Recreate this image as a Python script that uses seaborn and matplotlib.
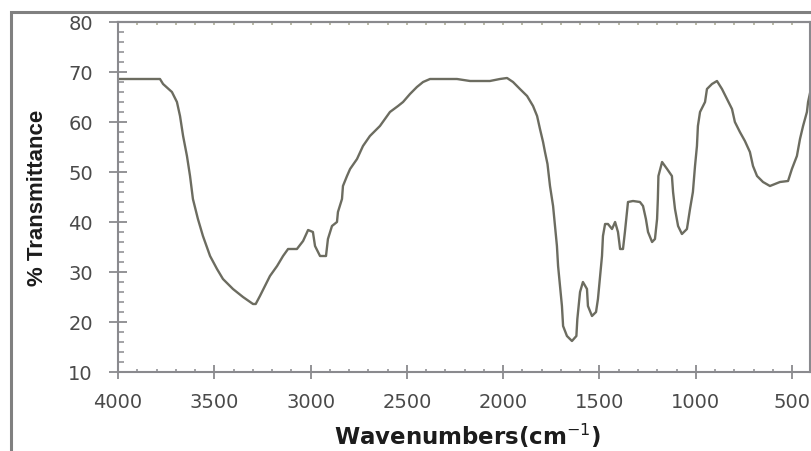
import matplotlib
matplotlib.use("Agg")
import matplotlib.pyplot as plt
import seaborn as sns
import pandas as pd
from matplotlib.patches import Rectangle
from matplotlib.ticker import MultipleLocator, FixedLocator

# ---- data ----
wavenumber = [4000, 3900, 3782, 3766, 3720, 3694, 3678, 3662, 3642, 3626, 3611, 3585,
              3559, 3522, 3486, 3455, 3403, 3351, 3299, 3285, 3263, 3237, 3211, 3174,
              3143, 3117, 3071, 3039, 3013, 2988, 2977, 2951, 2920, 2910, 2889, 2863,
              2858, 2837, 2832, 2811, 2795, 2759, 2728, 2692, 2640, 2588, 2546, 2520,
              2484, 2448, 2416, 2380, 2240, 2172, 2069, 2017, 1980, 1949, 1913, 1876,
              1845, 1824, 1809, 1793, 1783, 1770, 1757, 1741, 1731, 1721, 1715, 1705,
              1695, 1689, 1669, 1643, 1620, 1615, 1601, 1586, 1565, 1560, 1539, 1518,
              1508, 1497, 1487, 1482, 1471, 1456, 1435, 1419, 1404, 1393, 1378, 1368,
              1357, 1352, 1326, 1290, 1274, 1259, 1248, 1227, 1212, 1201, 1197, 1194,
              1175, 1149, 1124, 1118, 1108, 1092, 1072, 1046, 1030, 1015, 1004, 994,
              989, 978, 952, 942, 916, 890, 864, 838, 812, 797, 771, 745, 719, 703,
              682, 651, 615, 563, 521, 501, 475, 459, 443, 423, 417, 400]
transmittance = [68.6, 68.6, 68.6, 67.6, 66.0, 64.0, 61.2, 57.2, 53.2, 49.2, 44.6, 40.6,
                 37.2, 33.2, 30.6, 28.6, 26.6, 25.0, 23.6, 23.6, 25.2, 27.2, 29.2, 31.2,
                 33.2, 34.6, 34.6, 36.2, 38.4, 38.0, 35.2, 33.2, 33.2, 36.6, 39.2, 40.0,
                 42.0, 44.6, 47.2, 49.2, 50.6, 52.6, 55.2, 57.2, 59.2, 62.0, 63.2, 64.0,
                 65.6, 67.0, 68.0, 68.6, 68.6, 68.2, 68.2, 68.6, 68.8, 68.0, 66.6, 65.2,
                 63.2, 61.2, 58.6, 56.0, 54.0, 51.6, 47.2, 43.2, 39.2, 35.2, 31.2, 27.2,
                 23.2, 19.2, 17.2, 16.2, 17.2, 20.6, 26.0, 28.0, 26.6, 23.2, 21.2, 22.0,
                 24.6, 29.2, 33.2, 37.2, 39.6, 39.6, 38.6, 40.0, 38.0, 34.6, 34.6, 38.0,
                 42.0, 44.0, 44.2, 44.0, 43.2, 40.6, 38.0, 36.0, 36.6, 40.6, 44.6, 49.2,
                 52.0, 50.6, 49.2, 46.0, 42.6, 39.2, 37.6, 38.6, 42.6, 46.0, 51.2, 55.2,
                 59.2, 62.0, 64.0, 66.6, 67.6, 68.2, 66.6, 64.6, 62.6, 60.0, 58.0, 56.2,
                 54.0, 51.2, 49.2, 48.0, 47.2, 48.0, 48.2, 50.6, 53.2, 56.6, 59.2, 62.0,
                 64.0, 67.0]
x_ticks = [4000, 3500, 3000, 2500, 2000, 1500, 1000, 500]
y_ticks = [10, 20, 30, 40, 50, 60, 70, 80]
x_label = "Wavenumbers(cm$^{-1}$)"
y_label = "% Transmittance"

sns.set_theme(style="ticks")
plt.rcParams["font.family"] = ["DejaVu Sans"]

W, H = 811, 452
fig = plt.figure(figsize=(W / 100, H / 100), dpi=100)
fig.patch.set_facecolor("white")
ax = fig.add_axes([118 / W, (H - 373) / H, 692 / W, 350 / H])

df = pd.DataFrame({"wn": wavenumber, "T": transmittance})
sns.lineplot(data=df, x="wn", y="T", sort=False, estimator=None,
             color="#6c6c60", linewidth=1.7, ax=ax)

ax.set_xlim(4000, 407)
ax.set_ylim(10, 80)
ax.xaxis.set_major_locator(FixedLocator(x_ticks))
ax.xaxis.set_minor_locator(MultipleLocator(100))
ax.yaxis.set_major_locator(FixedLocator(y_ticks))
ax.yaxis.set_minor_locator(MultipleLocator(2))

spine_c = "#8a8a8e"
for s in ax.spines.values():
    s.set_visible(True)
    s.set_color(spine_c)
    s.set_linewidth(1.5)

lab_c = "#4a4a4a"
ax.tick_params(axis="x", which="major", direction="inout", length=10, width=1.3,
               color=spine_c, pad=9.5, labelsize=14, labelcolor=lab_c,
               top=False, bottom=True)
ax.tick_params(axis="x", which="minor", direction="in", length=2.5, width=1.1,
               color=spine_c, top=False, bottom=True)
ax.tick_params(axis="y", which="major", direction="inout", length=13, width=1.3,
               color=spine_c, pad=11.5, labelsize=14, labelcolor=lab_c,
               left=True, right=False)
ax.tick_params(axis="y", which="minor", direction="in", length=4.5, width=1.1,
               color=spine_c, left=True, right=False)

sec = ax.secondary_xaxis("top")
sec.xaxis.set_major_locator(MultipleLocator(100))
sec.tick_params(direction="in", length=2.5, width=1.1, color="#a8a890",
                labeltop=False)
sec.spines["top"].set_color(spine_c)
sec.spines["top"].set_linewidth(1.5)

ax.set_xlabel(x_label, fontsize=16.5, fontweight="bold", color="#1c1c1c",
              va="top")
ax.xaxis.set_label_coords(0.505, -0.138)
ax.set_ylabel(y_label, fontsize=16, fontweight="bold", color="#1c1c1c",
              family=["Liberation Sans", "DejaVu Sans"])
ax.yaxis.set_label_coords(-0.101, 0.5)

# outer gray frame (only left and top edges visible)
y_top = 1 - 12.5 / H
fig.add_artist(Rectangle((10.5 / W, -0.2), 2.0, y_top + 0.2,
                         transform=fig.transFigure, fill=False,
                         edgecolor="#808080", linewidth=2.2, clip_on=False))

fig.savefig("out.png", dpi=100)
